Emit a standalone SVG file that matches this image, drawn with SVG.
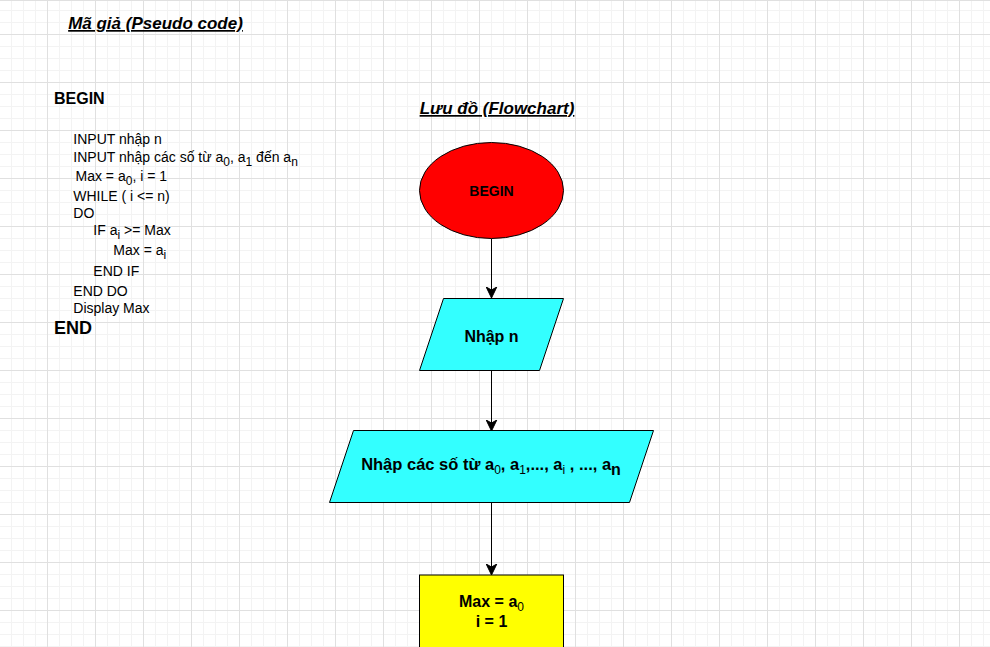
<svg xmlns="http://www.w3.org/2000/svg" width="990" height="647" viewBox="0 0 990 647">
  <defs>
    <pattern id="grid" x="47" y="34" width="48" height="48" patternUnits="userSpaceOnUse">
      <path d="M12.5 0V48M24.5 0V48M36.5 0V48M0 12.5H48M0 24.5H48M0 36.5H48" stroke="#f3f3f3" stroke-width="1" fill="none"/>
      <path d="M0.5 0V48M0 0.5H48" stroke="#e0e0e0" stroke-width="1" fill="none"/>
    </pattern>
    <marker id="arrow" viewBox="0 0 12 12" refX="11" refY="6" markerWidth="12" markerHeight="12" markerUnits="userSpaceOnUse" orient="auto">
      <path d="M11 6 L0 0.7 L3 6 L0 11.3 Z" fill="#000" stroke="#000" stroke-width="1"/>
    </marker>
  </defs>
  <style>
    text { font-family: "Liberation Sans", Arial, sans-serif; fill: #000; }
    .title { font-size: 17px; font-weight: bold; font-style: italic; text-decoration: underline; }
    .code { font-size: 14px; }
    .kw { font-weight: bold; }
    .node { stroke: #000; stroke-width: 1; }
    .lbl { font-weight: bold; text-anchor: middle; }
    .edge { stroke: #000; stroke-width: 1; fill: none; marker-end: url(#arrow); }
  </style>
  <rect width="990" height="647" fill="#ffffff"/>
  <rect width="990" height="647" fill="url(#grid)"/>
  <line x1="0" y1="0.5" x2="990" y2="0.5" stroke="#e0e0e0"/>

  <g id="pseudo-title">
    <text class="title" x="155.5" y="29" text-anchor="middle">Mã giả (Pseudo code)</text>
  </g>
  <g id="flow-title">
    <text class="title" x="497" y="114" text-anchor="middle">Lưu đồ (Flowchart)</text>
  </g>

  <g id="pseudo-code">
    <text class="kw" x="54" y="104" font-size="16">BEGIN</text>
    <text class="code" x="73.3" y="144">INPUT nhập n</text>
    <text class="code" x="73.3" y="162">INPUT nhập các số từ a<tspan font-size="12" dy="4">0</tspan><tspan dy="-4">, a</tspan><tspan font-size="12" dy="4">1</tspan><tspan dy="-4"> đến a</tspan><tspan font-size="12" dy="4">n</tspan></text>
    <text class="code" x="75.5" y="181">Max = a<tspan font-size="12" dy="4">0</tspan><tspan dy="-4">, i = 1</tspan></text>
    <text class="code" x="73.3" y="201">WHILE ( i &lt;= n)</text>
    <text class="code" x="73.3" y="218">DO</text>
    <text class="code" x="93.3" y="235">IF a<tspan font-size="12" dy="4">i</tspan><tspan dy="-4"> &gt;= Max</tspan></text>
    <text class="code" x="113.3" y="255">Max = a<tspan font-size="12" dy="4">i</tspan></text>
    <text class="code" x="93.3" y="276">END IF</text>
    <text class="code" x="73.3" y="295.5">END DO</text>
    <text class="code" x="73.3" y="313">Display Max</text>
    <text class="kw" x="54" y="334" font-size="18">END</text>
  </g>

  <g id="connectors">
    <line class="edge" x1="491.5" y1="238.5" x2="491.5" y2="298"/>
    <line class="edge" x1="491.5" y1="370.5" x2="491.5" y2="431"/>
    <line class="edge" x1="491.5" y1="503" x2="491.5" y2="575"/>
  </g>

  <g id="begin">
    <ellipse class="node" cx="491.5" cy="190.5" rx="72" ry="48" fill="#ff0000"/>
    <text class="lbl" x="491.5" y="196" font-size="14">BEGIN</text>
  </g>

  <g id="input-n">
    <polygon class="node" points="443.5,298.5 563.5,298.5 539.5,370.5 419.5,370.5" fill="#33ffff"/>
    <text class="lbl" x="491.5" y="342" font-size="16">Nhập n</text>
  </g>

  <g id="input-array">
    <polygon class="node" points="353.5,430.5 653.5,430.5 629.5,502.5 329.5,502.5" fill="#33ffff"/>
    <text class="lbl" x="491" y="470" font-size="16.5">Nhập các số từ a<tspan font-size="12" font-weight="normal" dy="4">0</tspan><tspan dy="-4">, a</tspan><tspan font-size="12" font-weight="normal" dy="4">1</tspan><tspan dy="-4">,..., a</tspan><tspan font-size="12" font-weight="normal" dy="4">i</tspan><tspan dy="-4"> , ..., a</tspan><tspan font-size="16" dy="5">n</tspan></text>
  </g>

  <g id="init">
    <rect class="node" x="419.5" y="575" width="144" height="80" fill="#ffff00"/>
    <text class="lbl" x="491.5" y="607" font-size="16">Max = a<tspan font-size="12" font-weight="normal" dy="4">0</tspan></text>
    <text class="lbl" x="491.5" y="627" font-size="16">i = 1</text>
  </g>
</svg>
